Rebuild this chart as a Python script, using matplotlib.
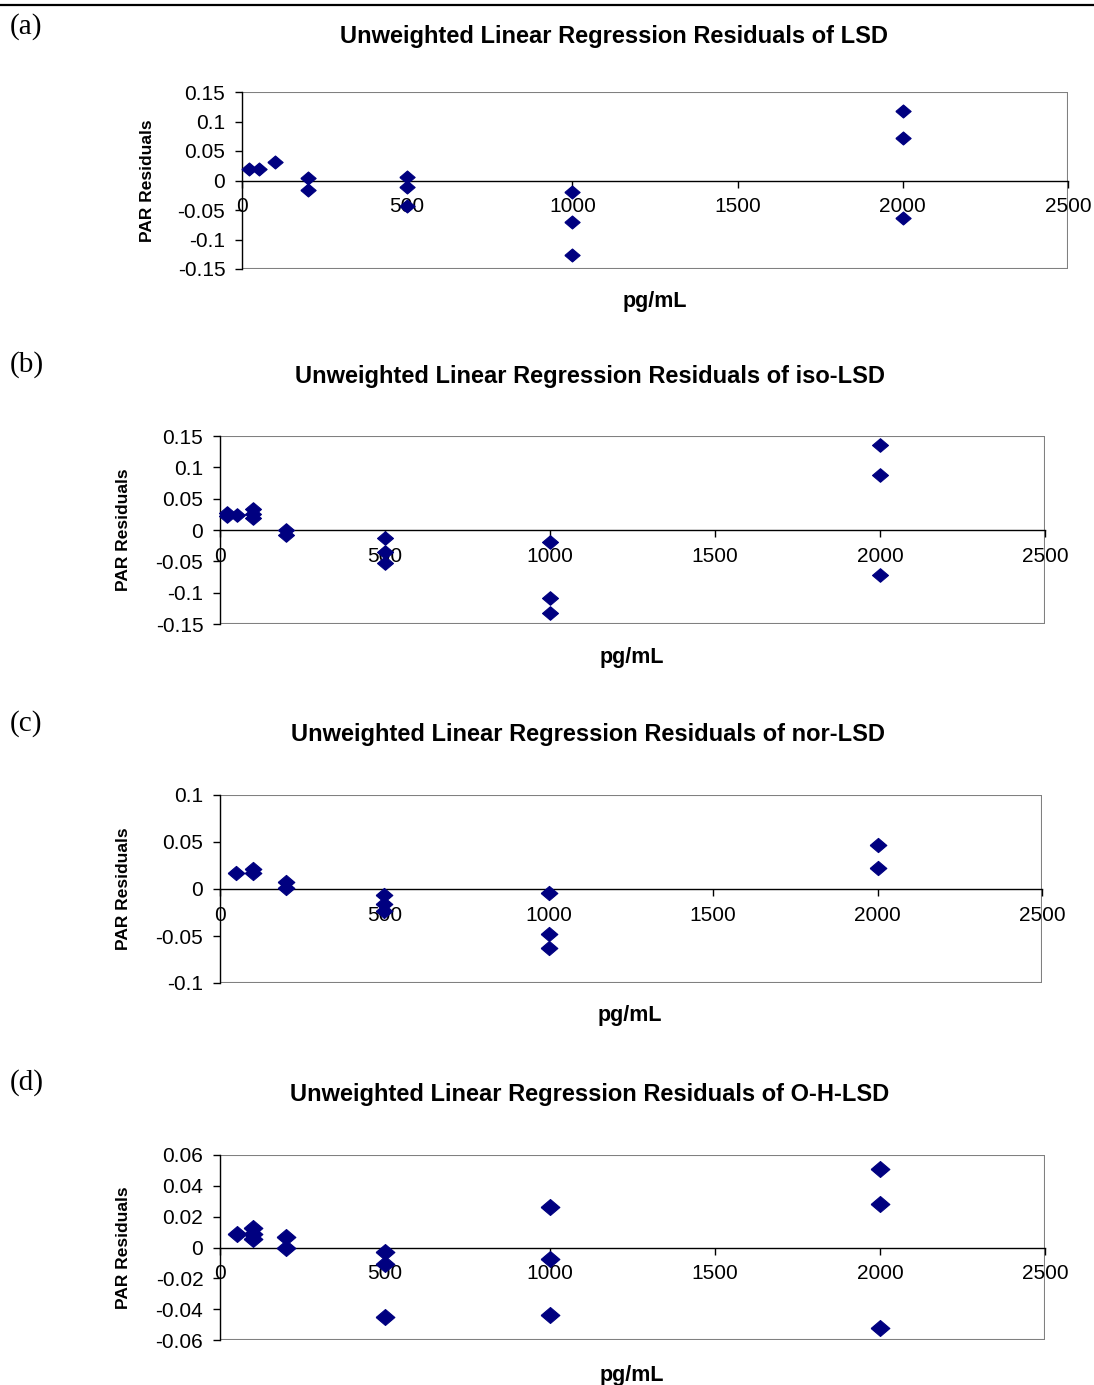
import matplotlib
matplotlib.use('Agg')
import matplotlib.pyplot as plt
from matplotlib.lines import Line2D
from matplotlib.patches import Rectangle

plt.rcParams['font.family'] = ['Liberation Sans', 'DejaVu Sans']

W, H = 1094, 1385

# concentrations (pg/mL) and PAR residuals
lsd_x = [20, 50, 100, 200, 200, 500, 500, 500, 1000, 1000, 1000, 2000, 2000, 2000]
lsd_y = [0.020, 0.020, 0.031, 0.005, -0.016, 0.006, -0.011, -0.044,
         -0.019, -0.071, -0.127, 0.117, 0.072, -0.064]

iso_x = [20, 20, 50, 100, 100, 100, 200, 200, 500, 500, 500,
         1000, 1000, 1000, 2000, 2000, 2000]
iso_y = [0.027, 0.022, 0.024, 0.033, 0.025, 0.019, 0.0, -0.008,
         -0.013, -0.035, -0.053, -0.019, -0.108, -0.132, 0.135, 0.088, -0.072]

nor_x = [50, 100, 100, 200, 200, 500, 500, 500, 1000, 1000, 1000, 2000, 2000]
nor_y = [0.0175, 0.021, 0.0175, 0.0075, 0.0015, -0.006, -0.016, -0.023,
         -0.004, -0.048, -0.063, 0.047, 0.022]

oh_x = [50, 100, 100, 100, 200, 200, 500, 500, 500,
        1000, 1000, 1000, 2000, 2000, 2000]
oh_y = [0.0086, 0.0128, 0.009, 0.0054, 0.007, 0.0, -0.0032, -0.011, -0.045,
        0.026, -0.0076, -0.044, 0.0506, 0.0285, -0.052]

x_ticks = [0, 500, 1000, 1500, 2000, 2500]
yt_a = [0.15, 0.1, 0.05, 0, -0.05, -0.1, -0.15]
yt_c = [0.1, 0.05, 0, -0.05, -0.1]
yt_d = [0.06, 0.04, 0.02, 0, -0.02, -0.04, -0.06]

panels = [
    # letter, compound, x, y, yticks, box (l, r, t, b) px, title center, ylabel x, xlabel center, letter y, marker size
    ('(a)', 'LSD', lsd_x, lsd_y, yt_a, (242, 1068, 92, 269), (614, 37), 147, (655, 301), 27, 11.0),
    ('(b)', 'iso-LSD', iso_x, iso_y, yt_a, (220, 1045, 436, 624), (590, 376), 124, (632, 657), 365, 11.5),
    ('(c)', 'nor-LSD', nor_x, nor_y, yt_c, (220, 1042, 795, 983), (588, 735), 124, (630, 1016), 724, 12.0),
    ('(d)', 'O-H-LSD', oh_x, oh_y, yt_d, (220, 1045, 1155, 1340), (590, 1095), 124, (632, 1375), 1083, 13.5),
]

diamond = [(-1, 0), (0, 0.85), (1, 0), (0, -0.85), (-1, 0)]


def fx(px):
    return px / W


def fy(py):
    return 1 - py / H


fig = plt.figure(figsize=(W / 100, H / 100), dpi=100)

# rule at the top of the page
fig.add_artist(Line2D([0, 1], [fy(5), fy(5)], color='black', lw=1.6))

for letter, name, xs, ys, yt, box, tpos, ylx, xlpos, ly, ms in panels:
    l, r, t, b = box
    ax = fig.add_axes([fx(l), fy(b), (r - l) / W, (b - t) / H])
    ax.set_xlim(0, 2500)
    ax.set_ylim(min(yt), max(yt))

    for s in ['top', 'right']:
        ax.spines[s].set_visible(False)
    ax.spines['bottom'].set_position(('data', 0))
    ax.spines['bottom'].set_color('black')
    ax.spines['left'].set_color('black')
    ax.spines['bottom'].set_linewidth(1.0)
    ax.spines['left'].set_linewidth(1.0)
    ax.add_patch(Rectangle((0, 0), 1, 1, transform=ax.transAxes, fill=False,
                           edgecolor='#808080', lw=1.5, zorder=1))

    ax.set_xticks(x_ticks)
    ax.set_xticklabels([str(v) for v in x_ticks])
    ax.set_yticks(yt)
    ax.set_yticklabels(['0' if v == 0 else f'{v:g}' for v in yt])
    ax.tick_params(axis='x', direction='out', length=5, width=1, pad=7, labelsize=15)
    ax.tick_params(axis='y', direction='out', length=5, width=1, pad=7, labelsize=15)

    ax.plot(xs, ys, linestyle='none', marker=diamond, markersize=ms,
            color='#000080', markeredgewidth=0.8, clip_on=False, zorder=3)

    fig.text(fx(tpos[0]), fy(tpos[1]),
             f'Unweighted Linear Regression Residuals of {name}',
             ha='center', va='center', fontsize=17, fontweight='bold')
    fig.text(fx(ylx), fy((t + b) / 2), 'PAR Residuals', rotation=90,
             ha='center', va='center', fontsize=12.5, fontweight='bold')
    fig.text(fx(xlpos[0]), fy(xlpos[1]), 'pg/mL', ha='center', va='center',
             fontsize=15.5, fontweight='bold')
    fig.text(fx(10), fy(ly), letter, ha='left', va='center', fontsize=21,
             family='Liberation Serif')

fig.savefig('out.png', dpi=100)
